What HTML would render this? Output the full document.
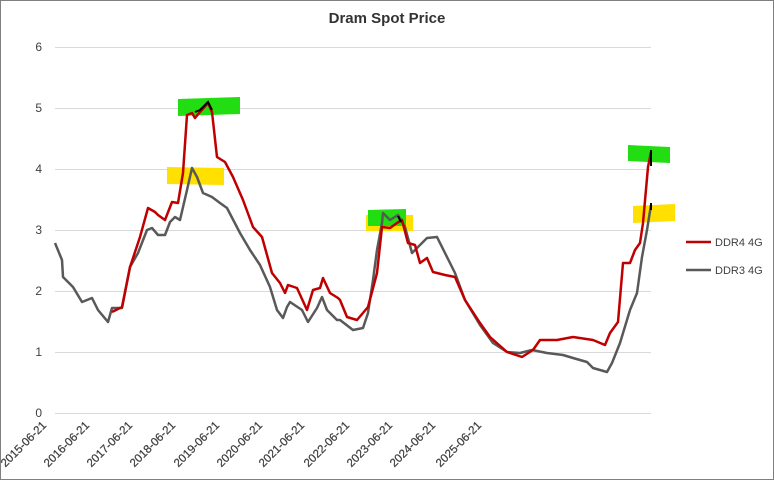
<!DOCTYPE html>
<html><head><meta charset="utf-8"><style>
body{margin:0;background:#fff}
svg{display:block;font-family:"Liberation Sans",sans-serif}
</style></head><body>
<svg width="774" height="480" viewBox="0 0 774 480">
<rect x="0.5" y="0.5" width="773" height="479" fill="#fff" stroke="#7f7f7f"/>
<text x="387" y="23" text-anchor="middle" font-size="15" font-weight="bold" fill="#333">Dram Spot Price</text>
<g stroke="#d9d9d9" stroke-width="1">
<line x1="55" x2="651" y1="47.5" y2="47.5"/><line x1="55" x2="651" y1="108.5" y2="108.5"/>
<line x1="55" x2="651" y1="169.5" y2="169.5"/><line x1="55" x2="651" y1="230.5" y2="230.5"/>
<line x1="55" x2="651" y1="291.5" y2="291.5"/><line x1="55" x2="651" y1="352.5" y2="352.5"/>
<line x1="55" x2="651" y1="413.5" y2="413.5"/>
</g>
<g font-size="12" fill="#404040" text-anchor="end">
<text x="42" y="51">6</text><text x="42" y="112">5</text><text x="42" y="173">4</text>
<text x="42" y="234">3</text><text x="42" y="295">2</text><text x="42" y="356">1</text><text x="42" y="417">0</text>
</g>
<g font-size="11.5" fill="#404040" text-anchor="end" stroke="#404040" stroke-width="0.25">
<text transform="translate(47,426) rotate(-45)">2015-06-21</text>
<text transform="translate(90,426) rotate(-45)">2016-06-21</text>
<text transform="translate(133,426) rotate(-45)">2017-06-21</text>
<text transform="translate(176,426) rotate(-45)">2018-06-21</text>
<text transform="translate(220,426) rotate(-45)">2019-06-21</text>
<text transform="translate(263,426) rotate(-45)">2020-06-21</text>
<text transform="translate(305,426) rotate(-45)">2021-06-21</text>
<text transform="translate(350,426) rotate(-45)">2022-06-21</text>
<text transform="translate(393,426) rotate(-45)">2023-06-21</text>
<text transform="translate(436,426) rotate(-45)">2024-06-21</text>
<text transform="translate(482,426) rotate(-45)">2025-06-21</text>
</g>
<polygon points="167,167 224,168 224,185 167,184" fill="#ffe000"/>
<polygon points="178,99 240,97 240,114 178,116" fill="#22dd11"/>
<polygon points="366,215 413,215 413,231 366,231" fill="#ffe000"/>
<polygon points="368,210 406,209 406,226 368,226" fill="#22dd11"/>
<polygon points="633,206 675,204 675,221 633,223" fill="#ffe000"/>
<polygon points="628,145 670,147 670,163 628,161" fill="#22dd11"/>
<polyline fill="none" stroke="#595959" stroke-width="2.5" stroke-linejoin="round" points="55,243 62,260 63,277 73,287 82,302 92,298 98,310 108,322 112,308 122,308 130,267 138,253 147,230 152,228 158,235 165,235 170,222 175,217 180,220 187,190 192,168 197,177 203,193 212,197 220,203 227,208 240,233 250,250 260,265 270,287 277,310 283,318 287,307 290,302 302,310 308,322 317,308 322,297 327,310 337,320 340,320 353,330 363,328 368,313 373,280 377,250 382,223 383,213 390,220 398,215 405,227 412,253 420,245 427,238 437,237 447,257 455,273 465,300 480,325 493,343 507,352 520,353 532,350 547,353 563,355 573,358 587,362 593,368 607,372 612,363 620,343 630,310 637,293 642,257 647,230 651,205"/>
<polyline fill="none" stroke="#c00000" stroke-width="2.5" stroke-linejoin="round" points="112,312 122,307 130,267 140,237 148,208 155,212 158,215 165,220 172,202 178,203 183,173 187,115 192,113 195,118 200,112 208,103 212,112 217,157 225,162 233,177 243,200 253,227 262,237 272,273 280,283 285,293 288,285 297,288 307,310 313,290 320,288 323,278 330,293 338,298 340,300 347,317 357,320 368,307 377,273 382,227 390,228 397,223 402,220 408,243 415,245 420,263 427,258 433,272 445,275 455,277 465,300 480,323 490,337 507,352 522,357 533,350 540,340 557,340 573,337 593,340 605,345 610,333 618,322 623,263 630,263 635,250 640,243 643,223 648,167 651,152"/>
<g fill="none" stroke="#000" stroke-width="2">
<polyline points="195,112 200,110 208,102 212,110"/>
<polyline points="398,216 401,222"/>
<line x1="651" y1="166" x2="651" y2="150"/>
<line x1="651" y1="210" x2="651" y2="203"/>
</g>
<line x1="686" x2="711" y1="242" y2="242" stroke="#c00000" stroke-width="2.5"/>
<text x="715" y="246" font-size="11" fill="#404040">DDR4 4G</text>
<line x1="686" x2="711" y1="270" y2="270" stroke="#595959" stroke-width="2.5"/>
<text x="715" y="274" font-size="11" fill="#404040">DDR3 4G</text>
</svg>
</body></html>
